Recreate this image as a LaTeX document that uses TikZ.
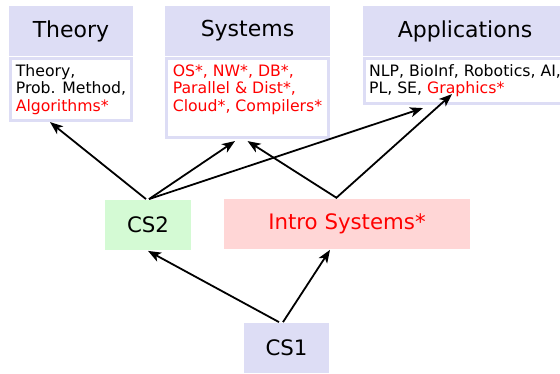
\documentclass[tikz,border=0pt]{standalone}
\usepackage{fontspec}
\setmainfont{DejaVu Sans}
\usetikzlibrary{positioning,arrows.meta}
\definecolor{lav}{RGB}{221,221,245}
\definecolor{cs2green}{RGB}{212,250,212}
\definecolor{intropink}{RGB}{255,214,214}

\begin{document}
\begin{tikzpicture}[-{Stealth[length=13pt,width=10pt,inset=3.5pt]}, line width=1.8pt,
  head node/.style={fill=lav, minimum height=50pt, inner sep=0pt, font=\fontsize{22}{26}\selectfont},
  course node/.style={minimum height=50pt, inner sep=0pt, font=\fontsize{21.3}{25}\selectfont},
  body node/.style={draw=lav, line width=3pt, fill=white, inner xsep=2pt, inner ysep=6pt, align=left, font=\fontsize{15.7}{17.5}\selectfont}]
\useasboundingbox (0pt,0pt) rectangle (560pt,-374pt);

\node[course node, fill=lav, minimum width=85pt]                                            (cs1)    at (286.5pt,-348pt) {CS1};
\node[course node, fill=cs2green, minimum width=86pt, node distance=123pt, above of=cs1, xshift=-138.5pt] (cs2)    {CS2};
\node[course node, fill=intropink, text=red, minimum width=246pt, node distance=124pt, above of=cs1, xshift=60.5pt] (intro) {Intro Systems*};

\node[head node, minimum width=124pt, node distance=194pt, above of=cs2, xshift=-77pt] (theory)  {Theory};
\node[head node, minimum width=165pt, node distance=176.5pt, right of=theory]          (systems) {Systems};
\node[head node, minimum width=204pt, node distance=217.5pt, right of=systems]         (apps)    {Applications};

\node[body node, minimum width=121pt, below=0pt of theory]  (theorybody)  {Theory,\\Prob. Method,\\\textcolor{red}{Algorithms*}};
\node[body node, minimum width=162pt, text=red, text depth=20.5pt, below=0pt of systems] (systemsbody) {OS*, NW*, DB*,\\Parallel \& Dist*,\\Cloud*, Compilers*};
\node[body node, minimum width=201pt, below=0pt of apps]    (appsbody)    {NLP, BioInf, Robotics, AI,\\PL, SE, \textcolor{red}{Graphics*}};

\path
([xshift=-2pt]cs2.north)    edge ([xshift=-21pt]theorybody.south)
([xshift=1pt]cs2.north)     edge ([xshift=-12.5pt,yshift=-2pt]systemsbody.south)
([xshift=1pt]cs2.north)     edge ([xshift=-42pt,yshift=-3.5pt]appsbody.south)
([xshift=-10pt]intro.north) edge ([yshift=-2pt]systemsbody.south)
([xshift=-11pt]intro.north) edge ([xshift=-13pt,yshift=10.5pt]appsbody.south)
([xshift=-7.5pt]cs1.north)  edge (cs2.south)
([xshift=-3.5pt]cs1.north)  edge ([xshift=-17pt]intro.south)
;
\end{tikzpicture}
\end{document}
